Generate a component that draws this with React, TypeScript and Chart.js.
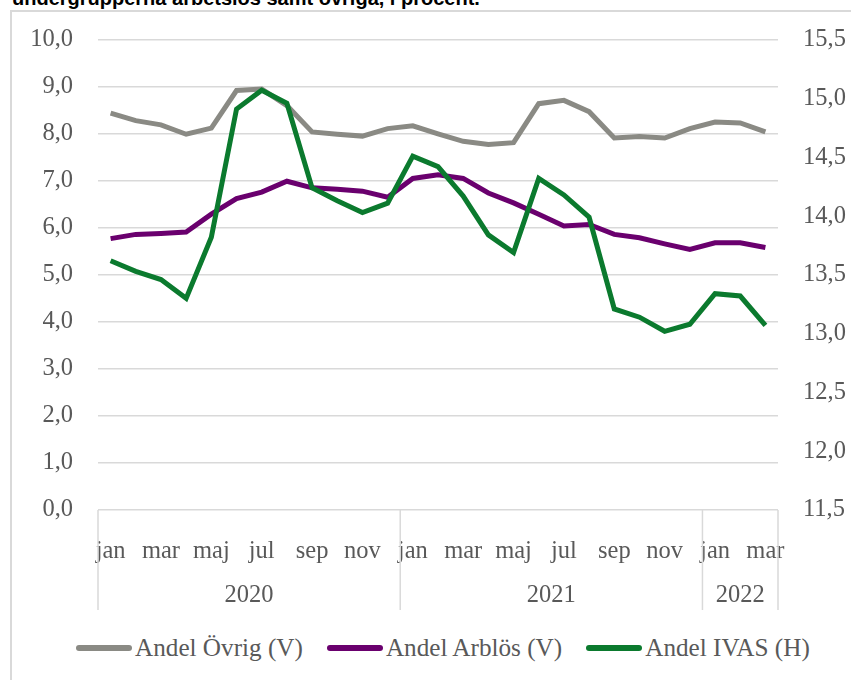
import React, { useEffect, useRef } from 'react';
import { Chart, registerables } from 'chart.js';
Chart.register(...registerables);

const months = [
  'jan', 'feb', 'mar', 'apr', 'maj', 'jun', 'jul', 'aug', 'sep', 'okt', 'nov', 'dec',
  'jan', 'feb', 'mar', 'apr', 'maj', 'jun', 'jul', 'aug', 'sep', 'okt', 'nov', 'dec',
  'jan', 'feb', 'mar',
];
const years = ['2020', '2021', '2022'];
const yearSpans = [12, 12, 3];

const ovrig = [8.44, 8.28, 8.19, 7.99, 8.12, 8.92, 8.95, 8.6, 8.04, 7.99, 7.95, 8.11, 8.17, 8.0, 7.84, 7.77, 7.81, 8.64, 8.71, 8.47, 7.91, 7.94, 7.91, 8.11, 8.25, 8.23, 8.04];
const arblos = [5.77, 5.86, 5.88, 5.91, 6.29, 6.62, 6.76, 6.99, 6.85, 6.82, 6.78, 6.65, 7.05, 7.13, 7.05, 6.74, 6.53, 6.29, 6.04, 6.07, 5.86, 5.79, 5.66, 5.54, 5.68, 5.68, 5.58];
const ivas = [13.62, 13.53, 13.46, 13.3, 13.82, 14.91, 15.07, 14.96, 14.24, 14.13, 14.03, 14.11, 14.51, 14.42, 14.17, 13.84, 13.69, 14.32, 14.18, 13.99, 13.21, 13.14, 13.02, 13.08, 13.34, 13.32, 13.07];

const seriesNames = ['Andel Övrig (V)', 'Andel Arblös (V)', 'Andel IVAS (H)'];
const seriesColors = ['#8a8a84', '#6a006e', '#0b7a2e'];

const title = 'undergrupperna arbetslös samt övriga, i procent.';

const FONT = '"Liberation Serif", "Times New Roman", serif';
const TXT = '#595959';
const GRID = '#d9d9d9';

const yearPlugin = {
  id: 'yearGroups',
  afterDraw(chart: any) {
    const xs = chart.scales.x;
    const area = chart.chartArea;
    const ctx = chart.ctx;
    const step = xs.getPixelForValue(1) - xs.getPixelForValue(0);
    ctx.save();
    ctx.strokeStyle = GRID;
    ctx.lineWidth = 1.5;
    let idx = 0;
    const bounds: number[] = [xs.getPixelForValue(0) - step / 2];
    years.forEach((y, k) => {
      const start = idx;
      idx += yearSpans[k];
      bounds.push(xs.getPixelForValue(idx - 1) + step / 2);
      const cx = (xs.getPixelForValue(start) + xs.getPixelForValue(idx - 1)) / 2;
      ctx.fillStyle = TXT;
      ctx.font = `24.5px ${FONT}`;
      ctx.textAlign = 'center';
      ctx.textBaseline = 'alphabetic';
      ctx.fillText(y, cx, area.bottom + 92);
    });
    bounds.forEach((bx) => {
      ctx.beginPath();
      ctx.moveTo(bx, area.bottom);
      ctx.lineTo(bx, area.bottom + 100);
      ctx.stroke();
    });
    ctx.restore();
  },
};

export default function App() {
  const ref = useRef<HTMLCanvasElement>(null);
  useEffect(() => {
    const canvas = ref.current!;
    const chart = new Chart(canvas, {
      type: 'line',
      data: {
        labels: months,
        datasets: [
          { label: seriesNames[0], data: ovrig, borderColor: seriesColors[0], backgroundColor: seriesColors[0], borderWidth: 5, pointRadius: 0, yAxisID: 'y', order: 3, tension: 0 },
          { label: seriesNames[1], data: arblos, borderColor: seriesColors[1], backgroundColor: seriesColors[1], borderWidth: 5, pointRadius: 0, yAxisID: 'y', order: 2, tension: 0 },
          { label: seriesNames[2], data: ivas, borderColor: seriesColors[2], backgroundColor: seriesColors[2], borderWidth: 5, pointRadius: 0, yAxisID: 'y1', order: 1, tension: 0 },
        ],
      },
      options: {
        responsive: false,
        animation: false,
        devicePixelRatio: 1,
        layout: { padding: { top: 38, left: 0, right: 0, bottom: 0 } },
        plugins: { legend: { display: false }, tooltip: { enabled: false } },
        scales: {
          x: {
            type: 'category',
            offset: true,
            grid: { display: false, offset: true },
            border: { display: false },
            ticks: {
              autoSkip: false,
              maxRotation: 0,
              minRotation: 0,
              padding: 19,
              color: TXT,
              font: { family: FONT, size: 24.5 },
              callback: (_v: any, i: number) => (i % 2 === 0 ? months[i] : ''),
            },
            afterFit: (s: any) => { s.height = 115; },
          },
          y: {
            position: 'left',
            min: 0,
            max: 10,
            grid: { color: GRID, lineWidth: 1.5, drawTicks: false },
            border: { display: false },
            ticks: {
              stepSize: 1,
              padding: 25,
              color: TXT,
              font: { family: FONT, size: 24.5 },
              callback: (v: any) => Number(v).toFixed(1).replace('.', ','),
            },
            afterFit: (s: any) => { s.width = 98; },
          },
          y1: {
            position: 'right',
            min: 11.5,
            max: 15.5,
            grid: { display: false, drawTicks: false },
            border: { display: false },
            ticks: {
              stepSize: 0.5,
              padding: 25,
              color: TXT,
              font: { family: FONT, size: 24.5 },
              callback: (v: any) => Number(v).toFixed(1).replace('.', ','),
            },
            afterFit: (s: any) => { s.width = 73; },
          },
        },
      },
      plugins: [yearPlugin],
    });
    return () => chart.destroy();
  }, []);

  return (
    <div style={{ position: 'fixed', left: 0, top: 0, width: 851, height: 680, overflow: 'hidden', background: '#fff' }}>
      <div style={{ position: 'absolute', left: 12, top: -12, lineHeight: '20px', fontSize: 20, fontWeight: 'bold', fontFamily: '"Liberation Sans", Arial, sans-serif', color: '#000', whiteSpace: 'nowrap' }}>
        {title}
      </div>
      <div style={{ position: 'absolute', left: 10, top: 10, right: -10, bottom: -10, border: `2px solid ${GRID}` }} />
      <canvas ref={ref} width={851} height={625} style={{ position: 'absolute', left: 0, top: 0, width: 851, height: 625 }} />
      <div style={{ position: 'absolute', left: 76, top: 630, display: 'flex', alignItems: 'center', height: 36 }}>
        {seriesNames.map((n, i) => (
          <div key={n} style={{ display: 'flex', alignItems: 'center', marginRight: 24 }}>
            <div style={{ width: 56, height: 6, borderRadius: 3, background: seriesColors[i], marginRight: 3 }} />
            <span style={{ fontFamily: FONT, fontSize: 25.2, color: TXT, lineHeight: '36px' }}>{n}</span>
          </div>
        ))}
      </div>
    </div>
  );
}
